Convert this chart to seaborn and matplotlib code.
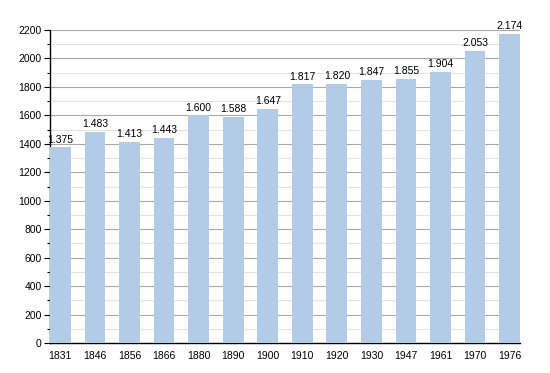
import seaborn as sns
import matplotlib.pyplot as plt
import numpy as np, pandas as pd
from matplotlib.ticker import MultipleLocator

years = ["1831", "1846", "1856", "1866", "1880", "1890", "1900",
         "1910", "1920", "1930", "1947", "1961", "1970", "1976"]
population = [1375, 1483, 1413, 1443, 1600, 1588, 1647,
              1817, 1820, 1847, 1855, 1904, 2053, 2174]

frame = pd.DataFrame({"year": years, "pop": population})

sns.set_style("white")
plt.rcParams['font.family'] = ['Liberation Sans', 'DejaVu Sans']
plt.rcParams['text.color'] = 'black'
plt.rcParams['xtick.color'] = 'black'
plt.rcParams['ytick.color'] = 'black'

fig = plt.figure(figsize=(5.5, 3.73), dpi=100)
ax = fig.add_axes([50 / 550, 1 - 343 / 373, 470 / 550, 313 / 373])

sns.barplot(data=frame, x="year", y="pop", color="#b3cbe6", saturation=1,
            width=0.6, linewidth=0, ax=ax, zorder=3)

ax.set_xlim(-0.3, len(years) - 0.7)
ax.set_ylim(0, 2200)
ax.yaxis.set_major_locator(MultipleLocator(200))
ax.yaxis.set_minor_locator(MultipleLocator(100))
ax.grid(which="major", axis="y", color="#a8a8a8", linewidth=0.8, zorder=0)
ax.grid(which="minor", axis="y", color="#e2e2e2", linewidth=0.8, zorder=0)
ax.set_axisbelow(True)

for s in ["top", "right"]:
    ax.spines[s].set_visible(False)
for s in ["left", "bottom"]:
    ax.spines[s].set_color("black")
    ax.spines[s].set_linewidth(1)

ax.tick_params(axis="y", which="major", left=True, length=4, width=0.8,
               labelsize=7.5, pad=2)
ax.tick_params(axis="y", which="minor", left=True, length=2, width=0.8)
ax.tick_params(axis="x", bottom=False, labelsize=7.5, pad=2)
ax.set_xlabel("")
ax.set_ylabel("")

for i, v in enumerate(population):
    lbl = "{:,}".format(v).replace(",", ".")
    ax.text(i, v + 20, lbl, ha="center", va="bottom", fontsize=7.5, color="black")

plt.savefig("out.png", dpi=100, facecolor="white")
plt.close()
